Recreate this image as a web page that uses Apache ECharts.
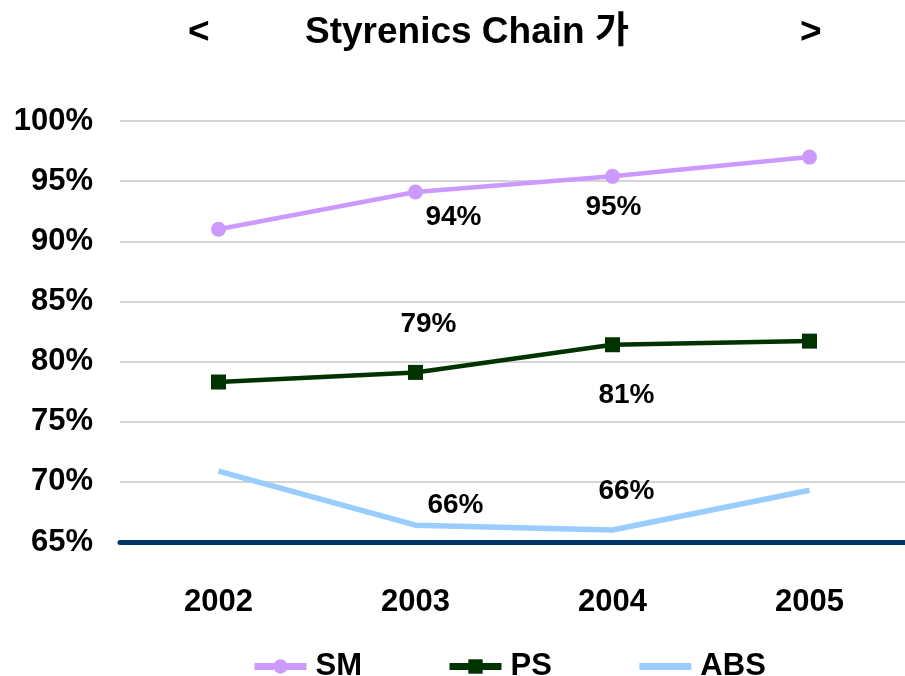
<!DOCTYPE html>
<html>
  <head>
    <meta charset="utf-8" />
    <title>Styrenics Chain</title>
    <style type="text/css">
      html,
      body {
        margin: 0;
        padding: 0;
        background: #ffffff;
      }
    </style>
    <script src="https://cdn.jsdelivr.net/npm/echarts@6/dist/echarts.min.js"></script>
  </head>
  <body>
    <div id="chart" style="width: 905px; height: 676px"></div>
    <script type="text/javascript">
      // values (percent)
      var years = ["2002", "2003", "2004", "2005"];
      var smValues = [91.0, 94.1, 95.4, 97.0];
      var psValues = [78.3, 79.1, 81.4, 81.7];
      var absValues = [70.9, 66.4, 66.0, 69.3];
      var yTicks = [65, 70, 75, 80, 85, 90, 95, 100];

      var FONT = '"Liberation Sans", Arial, "Noto Sans CJK KR", sans-serif';

      var chart = echarts.init(document.getElementById("chart"));

      // only 2003 / 2004 carry a label, each nudged like in the original
      function withLabels(values, offsets) {
        return values.map(function (v, i) {
          if (!offsets[i]) return v;
          return {
            value: v,
            label: { show: true, position: "inside", offset: offsets[i] },
          };
        });
      }

      var labelStyle = {
        show: false,
        color: "#000",
        fontFamily: FONT,
        fontWeight: "bold",
        fontSize: 28,
        formatter: function (p) {
          return Math.round(p.value) + "%";
        },
      };

      var titleText = { fontFamily: FONT, fontWeight: "bold", fontSize: 37, color: "#000" };

      var option = {
        animation: false,
        title: [
          { text: "<", left: 183, top: 9, textStyle: titleText },
          { text: "Styrenics Chain 가", left: 300, top: 9, textStyle: titleText },
          { text: ">", left: 795, top: 9, textStyle: titleText },
        ],
        legend: {
          left: 246,
          top: 646,
          itemWidth: 52,
          itemHeight: 18,
          itemGap: 84,
          lineStyle: { width: 7 },
          textStyle: {
            fontFamily: FONT,
            fontWeight: "bold",
            fontSize: 31,
            color: "#000",
            padding: [0, 0, 0, 4],
          },
          data: ["SM", "PS", "ABS"],
        },
        grid: {
          left: 120,
          top: 121,
          width: 788,
          height: 421,
          containLabel: false,
          outerBoundsMode: "none",
        },
        xAxis: {
          type: "category",
          data: years,
          axisLine: { lineStyle: { color: "#003366", width: 5 } },
          axisTick: { show: false },
          axisLabel: {
            margin: 45,
            color: "#000",
            fontFamily: FONT,
            fontWeight: "bold",
            fontSize: 31,
          },
        },
        yAxis: {
          type: "value",
          min: yTicks[0],
          max: yTicks[yTicks.length - 1],
          interval: 5,
          axisLine: { show: false },
          axisTick: { show: false },
          splitLine: { lineStyle: { color: "#c8c8c8", width: 1.5 } },
          axisLabel: {
            margin: 27,
            color: "#000",
            fontFamily: FONT,
            fontWeight: "bold",
            fontSize: 31,
            formatter: "{value}%",
          },
        },
        series: [
          {
            name: "SM",
            type: "line",
            data: withLabels(smValues, [null, [38, 25], [1, 31], null]),
            symbol: "circle",
            symbolSize: 15,
            color: "#cc99ff",
            itemStyle: { color: "#cc99ff" },
            lineStyle: { color: "#cc99ff", width: 4.5 },
            label: labelStyle,
            z: 4,
          },
          {
            name: "PS",
            type: "line",
            data: withLabels(psValues, [null, [13, -48], [14, 51], null]),
            symbol: "rect",
            symbolSize: 15,
            color: "#003300",
            itemStyle: { color: "#003300" },
            lineStyle: { color: "#003300", width: 4.5 },
            label: labelStyle,
            z: 3,
          },
          {
            name: "ABS",
            type: "line",
            data: withLabels(absValues, [null, [40, -20], [14, -39], null]),
            symbol: "circle",
            symbolSize: 2,
            color: "#99ccff",
            itemStyle: { color: "rgba(0,0,0,0)" },
            lineStyle: { color: "#99ccff", width: 5.5 },
            label: labelStyle,
            z: 2,
          },
        ],
      };

      chart.setOption(option);
    </script>
  </body>
</html>
